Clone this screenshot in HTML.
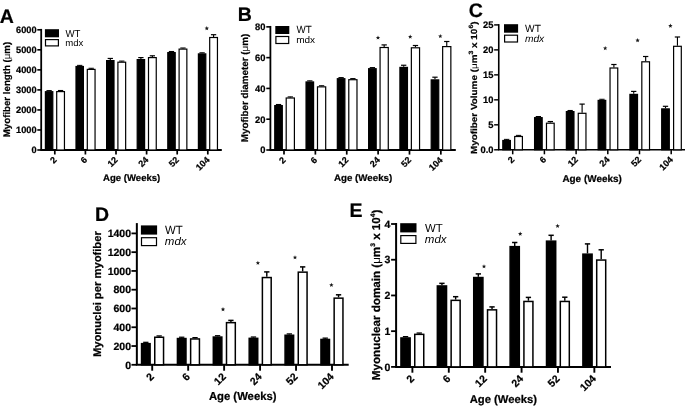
<!DOCTYPE html>
<html><head><meta charset="utf-8"><style>
html,body{margin:0;padding:0;background:#fff;}
svg{display:block;font-family:"Liberation Sans", sans-serif;will-change:transform;text-rendering:geometricPrecision;}
text[font-weight=bold]{stroke:#000;stroke-width:0.22px;}
</style></head><body>
<svg width="685" height="408" viewBox="0 0 685 408">
<rect width="685" height="408" fill="#fff"/>
<text x="-0.2" y="22.8" font-size="19.5" font-weight="bold" stroke="#000" stroke-width="0.3">A</text>
<line x1="41.2" y1="28.9" x2="41.2" y2="150" stroke="#000" stroke-width="1.8"/>
<line x1="37.3" y1="150" x2="41.2" y2="150" stroke="#000" stroke-width="1.62"/>
<text x="36.57" y="153.29" font-size="9.2" font-weight="bold" text-anchor="end">0</text>
<line x1="37.3" y1="129.97" x2="41.2" y2="129.97" stroke="#000" stroke-width="1.62"/>
<text x="36.57" y="133.26" font-size="9.2" font-weight="bold" text-anchor="end">1000</text>
<line x1="37.3" y1="109.93" x2="41.2" y2="109.93" stroke="#000" stroke-width="1.62"/>
<text x="36.57" y="113.23" font-size="9.2" font-weight="bold" text-anchor="end">2000</text>
<line x1="37.3" y1="89.9" x2="41.2" y2="89.9" stroke="#000" stroke-width="1.62"/>
<text x="36.57" y="93.19" font-size="9.2" font-weight="bold" text-anchor="end">3000</text>
<line x1="37.3" y1="69.87" x2="41.2" y2="69.87" stroke="#000" stroke-width="1.62"/>
<text x="36.57" y="73.16" font-size="9.2" font-weight="bold" text-anchor="end">4000</text>
<line x1="37.3" y1="49.83" x2="41.2" y2="49.83" stroke="#000" stroke-width="1.62"/>
<text x="36.57" y="53.13" font-size="9.2" font-weight="bold" text-anchor="end">5000</text>
<line x1="37.3" y1="29.8" x2="41.2" y2="29.8" stroke="#000" stroke-width="1.62"/>
<text x="36.57" y="33.09" font-size="9.2" font-weight="bold" text-anchor="end">6000</text>
<line x1="40.3" y1="150" x2="221.8" y2="150" stroke="#000" stroke-width="1.8"/>
<line x1="54.8" y1="150" x2="54.8" y2="154.5" stroke="#000" stroke-width="1.71"/>
<text transform="translate(57.2,160.48) rotate(-45)" font-size="9" font-weight="bold" text-anchor="end">2</text>
<line x1="49.1" y1="90.57" x2="49.1" y2="91.1" stroke="#000" stroke-width="1.14"/>
<line x1="46.45" y1="90.57" x2="51.75" y2="90.57" stroke="#000" stroke-width="1.02"/>
<rect x="45.4" y="91.7" width="7.4" height="58.3" fill="#000" stroke="#000" stroke-width="1.2"/>
<line x1="60.57" y1="90.47" x2="60.57" y2="91" stroke="#000" stroke-width="1.14"/>
<line x1="57.92" y1="90.47" x2="63.22" y2="90.47" stroke="#000" stroke-width="1.02"/>
<rect x="56.7" y="91.6" width="7.75" height="58.4" fill="#fff" stroke="#000" stroke-width="1.2"/>
<line x1="85.4" y1="150" x2="85.4" y2="154.5" stroke="#000" stroke-width="1.71"/>
<text transform="translate(87.8,160.48) rotate(-45)" font-size="9" font-weight="bold" text-anchor="end">6</text>
<line x1="79.7" y1="65.37" x2="79.7" y2="65.9" stroke="#000" stroke-width="1.14"/>
<line x1="77.05" y1="65.37" x2="82.35" y2="65.37" stroke="#000" stroke-width="1.02"/>
<rect x="76" y="66.5" width="7.4" height="83.5" fill="#000" stroke="#000" stroke-width="1.2"/>
<line x1="91.18" y1="68.27" x2="91.18" y2="68.8" stroke="#000" stroke-width="1.14"/>
<line x1="88.53" y1="68.27" x2="93.83" y2="68.27" stroke="#000" stroke-width="1.02"/>
<rect x="87.3" y="69.4" width="7.75" height="80.6" fill="#fff" stroke="#000" stroke-width="1.2"/>
<line x1="116" y1="150" x2="116" y2="154.5" stroke="#000" stroke-width="1.71"/>
<text transform="translate(118.4,160.48) rotate(-45)" font-size="9" font-weight="bold" text-anchor="end">12</text>
<line x1="110.3" y1="58.45" x2="110.3" y2="60" stroke="#000" stroke-width="1.14"/>
<line x1="107.65" y1="58.45" x2="112.95" y2="58.45" stroke="#000" stroke-width="1.2"/>
<rect x="106.6" y="60.6" width="7.4" height="89.4" fill="#000" stroke="#000" stroke-width="1.2"/>
<line x1="121.78" y1="61.07" x2="121.78" y2="61.6" stroke="#000" stroke-width="1.14"/>
<line x1="119.12" y1="61.07" x2="124.43" y2="61.07" stroke="#000" stroke-width="1.02"/>
<rect x="117.9" y="62.2" width="7.75" height="87.8" fill="#fff" stroke="#000" stroke-width="1.2"/>
<line x1="146.6" y1="150" x2="146.6" y2="154.5" stroke="#000" stroke-width="1.71"/>
<text transform="translate(149,160.48) rotate(-45)" font-size="9" font-weight="bold" text-anchor="end">24</text>
<line x1="140.9" y1="57.6" x2="140.9" y2="59" stroke="#000" stroke-width="1.14"/>
<line x1="138.25" y1="57.6" x2="143.55" y2="57.6" stroke="#000" stroke-width="1.2"/>
<rect x="137.2" y="59.6" width="7.4" height="90.4" fill="#000" stroke="#000" stroke-width="1.2"/>
<line x1="152.38" y1="55.8" x2="152.38" y2="57" stroke="#000" stroke-width="1.14"/>
<line x1="149.73" y1="55.8" x2="155.03" y2="55.8" stroke="#000" stroke-width="1.2"/>
<rect x="148.5" y="57.6" width="7.75" height="92.4" fill="#fff" stroke="#000" stroke-width="1.2"/>
<line x1="177.2" y1="150" x2="177.2" y2="154.5" stroke="#000" stroke-width="1.71"/>
<text transform="translate(179.6,160.48) rotate(-45)" font-size="9" font-weight="bold" text-anchor="end">52</text>
<line x1="171.5" y1="51.47" x2="171.5" y2="52" stroke="#000" stroke-width="1.14"/>
<line x1="168.85" y1="51.47" x2="174.15" y2="51.47" stroke="#000" stroke-width="1.02"/>
<rect x="167.8" y="52.6" width="7.4" height="97.4" fill="#000" stroke="#000" stroke-width="1.2"/>
<line x1="182.97" y1="47.97" x2="182.97" y2="48.5" stroke="#000" stroke-width="1.14"/>
<line x1="180.32" y1="47.97" x2="185.62" y2="47.97" stroke="#000" stroke-width="1.02"/>
<rect x="179.1" y="49.1" width="7.75" height="100.9" fill="#fff" stroke="#000" stroke-width="1.2"/>
<line x1="207.8" y1="150" x2="207.8" y2="154.5" stroke="#000" stroke-width="1.71"/>
<text transform="translate(210.2,160.48) rotate(-45)" font-size="9" font-weight="bold" text-anchor="end">104</text>
<line x1="202.1" y1="52.77" x2="202.1" y2="53.3" stroke="#000" stroke-width="1.14"/>
<line x1="199.45" y1="52.77" x2="204.75" y2="52.77" stroke="#000" stroke-width="1.02"/>
<rect x="198.4" y="53.9" width="7.4" height="96.1" fill="#000" stroke="#000" stroke-width="1.2"/>
<line x1="213.58" y1="34.7" x2="213.58" y2="36.9" stroke="#000" stroke-width="1.14"/>
<line x1="210.93" y1="34.7" x2="216.23" y2="34.7" stroke="#000" stroke-width="1.2"/>
<rect x="209.7" y="37.5" width="7.75" height="112.5" fill="#fff" stroke="#000" stroke-width="1.2"/>
<polygon points="206.8,26.1 207.39,27.59 208.99,27.69 207.75,28.71 208.15,30.26 206.8,29.4 205.45,30.26 205.85,28.71 204.61,27.69 206.21,27.59" fill="#1a1a1a"/>
<rect x="44.9" y="29.2" width="14.1" height="8.1" fill="#000"/>
<rect x="45.5" y="39.6" width="12.9" height="6.3" fill="#fff" stroke="#000" stroke-width="1.2"/>
<text x="65.4" y="36.7" font-size="10.3" textLength="15.01" lengthAdjust="spacingAndGlyphs">WT</text>
<text x="65.19" y="45.8" font-size="9.4" textLength="18.11" lengthAdjust="spacingAndGlyphs">mdx</text>
<text transform="translate(9.9,89.5) rotate(-90)" font-size="9.6" font-weight="bold" text-anchor="middle" textLength="95.46" lengthAdjust="spacingAndGlyphs">Myofiber length (<tspan font-weight="normal" style="stroke-width:0">μ</tspan>m)</text>
<text x="103" y="180.7" font-size="9.5" font-weight="bold" textLength="57.3" lengthAdjust="spacingAndGlyphs">Age (Weeks)</text>
<text x="237.8" y="20.8" font-size="19.5" font-weight="bold" stroke="#000" stroke-width="0.3">B</text>
<line x1="270.4" y1="25.95" x2="270.4" y2="150" stroke="#000" stroke-width="1.8"/>
<line x1="266.3" y1="150" x2="270.4" y2="150" stroke="#000" stroke-width="1.62"/>
<text x="265.48" y="153.37" font-size="9.4" font-weight="bold" text-anchor="end">0</text>
<line x1="266.3" y1="119.21" x2="270.4" y2="119.21" stroke="#000" stroke-width="1.62"/>
<text x="265.48" y="122.58" font-size="9.4" font-weight="bold" text-anchor="end">20</text>
<line x1="266.3" y1="88.42" x2="270.4" y2="88.42" stroke="#000" stroke-width="1.62"/>
<text x="265.48" y="91.79" font-size="9.4" font-weight="bold" text-anchor="end">40</text>
<line x1="266.3" y1="57.64" x2="270.4" y2="57.64" stroke="#000" stroke-width="1.62"/>
<text x="265.48" y="61" font-size="9.4" font-weight="bold" text-anchor="end">60</text>
<line x1="266.3" y1="26.85" x2="270.4" y2="26.85" stroke="#000" stroke-width="1.62"/>
<text x="265.48" y="30.22" font-size="9.4" font-weight="bold" text-anchor="end">80</text>
<line x1="269.5" y1="150" x2="455.8" y2="150" stroke="#000" stroke-width="1.8"/>
<line x1="284" y1="150" x2="284" y2="154.6" stroke="#000" stroke-width="1.71"/>
<text transform="translate(286.4,160.58) rotate(-45)" font-size="9" font-weight="bold" text-anchor="end">2</text>
<line x1="278.52" y1="104.47" x2="278.52" y2="105" stroke="#000" stroke-width="1.14"/>
<line x1="275.88" y1="104.47" x2="281.17" y2="104.47" stroke="#000" stroke-width="1.02"/>
<rect x="274.75" y="105.6" width="7.55" height="44.4" fill="#000" stroke="#000" stroke-width="1.2"/>
<line x1="290.3" y1="96.87" x2="290.3" y2="97.4" stroke="#000" stroke-width="1.14"/>
<line x1="287.65" y1="96.87" x2="292.95" y2="96.87" stroke="#000" stroke-width="1.02"/>
<rect x="286.2" y="98" width="8.2" height="52" fill="#fff" stroke="#000" stroke-width="1.2"/>
<line x1="315.37" y1="150" x2="315.37" y2="154.6" stroke="#000" stroke-width="1.71"/>
<text transform="translate(317.77,160.58) rotate(-45)" font-size="9" font-weight="bold" text-anchor="end">6</text>
<line x1="309.81" y1="80.82" x2="309.81" y2="81.35" stroke="#000" stroke-width="1.14"/>
<line x1="307.17" y1="80.82" x2="312.46" y2="80.82" stroke="#000" stroke-width="1.02"/>
<rect x="306.04" y="81.95" width="7.55" height="68.05" fill="#000" stroke="#000" stroke-width="1.2"/>
<line x1="321.59" y1="85.72" x2="321.59" y2="86.25" stroke="#000" stroke-width="1.14"/>
<line x1="318.94" y1="85.72" x2="324.24" y2="85.72" stroke="#000" stroke-width="1.02"/>
<rect x="317.49" y="86.85" width="8.2" height="63.15" fill="#fff" stroke="#000" stroke-width="1.2"/>
<line x1="346.74" y1="150" x2="346.74" y2="154.6" stroke="#000" stroke-width="1.71"/>
<text transform="translate(349.14,160.58) rotate(-45)" font-size="9" font-weight="bold" text-anchor="end">12</text>
<line x1="341.1" y1="77.57" x2="341.1" y2="78.1" stroke="#000" stroke-width="1.14"/>
<line x1="338.45" y1="77.57" x2="343.75" y2="77.57" stroke="#000" stroke-width="1.02"/>
<rect x="337.33" y="78.7" width="7.55" height="71.3" fill="#000" stroke="#000" stroke-width="1.2"/>
<line x1="352.88" y1="78.57" x2="352.88" y2="79.1" stroke="#000" stroke-width="1.14"/>
<line x1="350.23" y1="78.57" x2="355.53" y2="78.57" stroke="#000" stroke-width="1.02"/>
<rect x="348.78" y="79.7" width="8.2" height="70.3" fill="#fff" stroke="#000" stroke-width="1.2"/>
<line x1="378.11" y1="150" x2="378.11" y2="154.6" stroke="#000" stroke-width="1.71"/>
<text transform="translate(380.51,160.58) rotate(-45)" font-size="9" font-weight="bold" text-anchor="end">24</text>
<line x1="372.39" y1="67.57" x2="372.39" y2="68.1" stroke="#000" stroke-width="1.14"/>
<line x1="369.75" y1="67.57" x2="375.04" y2="67.57" stroke="#000" stroke-width="1.02"/>
<rect x="368.62" y="68.7" width="7.55" height="81.3" fill="#000" stroke="#000" stroke-width="1.2"/>
<line x1="384.17" y1="44.9" x2="384.17" y2="46.9" stroke="#000" stroke-width="1.14"/>
<line x1="381.52" y1="44.9" x2="386.82" y2="44.9" stroke="#000" stroke-width="1.2"/>
<rect x="380.07" y="47.5" width="8.2" height="102.5" fill="#fff" stroke="#000" stroke-width="1.2"/>
<line x1="409.48" y1="150" x2="409.48" y2="154.6" stroke="#000" stroke-width="1.71"/>
<text transform="translate(411.88,160.58) rotate(-45)" font-size="9" font-weight="bold" text-anchor="end">52</text>
<line x1="403.68" y1="65.25" x2="403.68" y2="66.8" stroke="#000" stroke-width="1.14"/>
<line x1="401.03" y1="65.25" x2="406.33" y2="65.25" stroke="#000" stroke-width="1.2"/>
<rect x="399.91" y="67.4" width="7.55" height="82.6" fill="#000" stroke="#000" stroke-width="1.2"/>
<line x1="415.46" y1="45.5" x2="415.46" y2="47.2" stroke="#000" stroke-width="1.14"/>
<line x1="412.81" y1="45.5" x2="418.11" y2="45.5" stroke="#000" stroke-width="1.2"/>
<rect x="411.36" y="47.8" width="8.2" height="102.2" fill="#fff" stroke="#000" stroke-width="1.2"/>
<line x1="440.85" y1="150" x2="440.85" y2="154.6" stroke="#000" stroke-width="1.71"/>
<text transform="translate(443.25,160.58) rotate(-45)" font-size="9" font-weight="bold" text-anchor="end">104</text>
<line x1="434.97" y1="77.2" x2="434.97" y2="79.3" stroke="#000" stroke-width="1.14"/>
<line x1="432.32" y1="77.2" x2="437.62" y2="77.2" stroke="#000" stroke-width="1.2"/>
<rect x="431.2" y="79.9" width="7.55" height="70.1" fill="#000" stroke="#000" stroke-width="1.2"/>
<line x1="446.75" y1="41.5" x2="446.75" y2="46" stroke="#000" stroke-width="1.14"/>
<line x1="444.1" y1="41.5" x2="449.4" y2="41.5" stroke="#000" stroke-width="1.2"/>
<rect x="442.65" y="46.6" width="8.2" height="103.4" fill="#fff" stroke="#000" stroke-width="1.2"/>
<polygon points="378,35.4 378.59,36.89 380.19,36.99 378.95,38.01 379.35,39.56 378,38.7 376.65,39.56 377.05,38.01 375.81,36.99 377.41,36.89" fill="#1a1a1a"/>
<polygon points="410.2,34.5 410.79,35.99 412.39,36.09 411.15,37.11 411.55,38.66 410.2,37.8 408.85,38.66 409.25,37.11 408.01,36.09 409.61,35.99" fill="#1a1a1a"/>
<polygon points="440.3,33.9 440.89,35.39 442.49,35.49 441.25,36.51 441.65,38.06 440.3,37.2 438.95,38.06 439.35,36.51 438.11,35.49 439.71,35.39" fill="#1a1a1a"/>
<rect x="275.3" y="26" width="14" height="8" fill="#000"/>
<rect x="275.9" y="36.5" width="12.8" height="7" fill="#fff" stroke="#000" stroke-width="1.2"/>
<text x="296.5" y="33.3" font-size="10.4" textLength="15.31" lengthAdjust="spacingAndGlyphs">WT</text>
<text x="296.18" y="43" font-size="9.5" textLength="18.91" lengthAdjust="spacingAndGlyphs">mdx</text>
<text transform="translate(248.3,87.9) rotate(-90)" font-size="9.7" font-weight="bold" text-anchor="middle" textLength="108.47" lengthAdjust="spacingAndGlyphs">Myofiber diameter (<tspan font-weight="normal" style="stroke-width:0">μ</tspan>m)</text>
<text x="333.9" y="180.6" font-size="9.5" font-weight="bold" textLength="58.4" lengthAdjust="spacingAndGlyphs">Age (Weeks)</text>
<text x="468.7" y="16.9" font-size="19.5" font-weight="bold" stroke="#000" stroke-width="0.3">C</text>
<line x1="498.75" y1="24.1" x2="498.75" y2="149.8" stroke="#000" stroke-width="1.6"/>
<line x1="494.15" y1="149.8" x2="498.75" y2="149.8" stroke="#000" stroke-width="1.44"/>
<text x="493.48" y="153.17" font-size="9.4" font-weight="bold" text-anchor="end">0.0</text>
<line x1="494.15" y1="124.82" x2="498.75" y2="124.82" stroke="#000" stroke-width="1.44"/>
<text x="493.48" y="128.19" font-size="9.4" font-weight="bold" text-anchor="end">5</text>
<line x1="494.15" y1="99.84" x2="498.75" y2="99.84" stroke="#000" stroke-width="1.44"/>
<text x="493.48" y="103.21" font-size="9.4" font-weight="bold" text-anchor="end">10</text>
<line x1="494.15" y1="74.86" x2="498.75" y2="74.86" stroke="#000" stroke-width="1.44"/>
<text x="493.48" y="78.23" font-size="9.4" font-weight="bold" text-anchor="end">15</text>
<line x1="494.15" y1="49.88" x2="498.75" y2="49.88" stroke="#000" stroke-width="1.44"/>
<text x="493.48" y="53.25" font-size="9.4" font-weight="bold" text-anchor="end">20</text>
<line x1="494.15" y1="24.9" x2="498.75" y2="24.9" stroke="#000" stroke-width="1.44"/>
<text x="493.48" y="28.27" font-size="9.4" font-weight="bold" text-anchor="end">25</text>
<line x1="497.95" y1="149.8" x2="685" y2="149.8" stroke="#000" stroke-width="1.6"/>
<line x1="512.7" y1="149.8" x2="512.7" y2="154.3" stroke="#000" stroke-width="1.52"/>
<text transform="translate(515.1,160.28) rotate(-45)" font-size="9" font-weight="bold" text-anchor="end">2</text>
<line x1="506.6" y1="139.37" x2="506.6" y2="139.9" stroke="#000" stroke-width="1.14"/>
<line x1="503.95" y1="139.37" x2="509.25" y2="139.37" stroke="#000" stroke-width="1.02"/>
<rect x="502.8" y="140.5" width="7.6" height="9.3" fill="#000" stroke="#000" stroke-width="1.2"/>
<line x1="518.55" y1="135.37" x2="518.55" y2="135.9" stroke="#000" stroke-width="1.14"/>
<line x1="515.9" y1="135.37" x2="521.2" y2="135.37" stroke="#000" stroke-width="1.02"/>
<rect x="514.7" y="136.5" width="7.7" height="13.3" fill="#fff" stroke="#000" stroke-width="1.2"/>
<line x1="544.4" y1="149.8" x2="544.4" y2="154.3" stroke="#000" stroke-width="1.52"/>
<text transform="translate(546.8,160.28) rotate(-45)" font-size="9" font-weight="bold" text-anchor="end">6</text>
<line x1="538.38" y1="116.52" x2="538.38" y2="117.05" stroke="#000" stroke-width="1.14"/>
<line x1="535.73" y1="116.52" x2="541.03" y2="116.52" stroke="#000" stroke-width="1.02"/>
<rect x="534.58" y="117.65" width="7.6" height="32.15" fill="#000" stroke="#000" stroke-width="1.2"/>
<line x1="550.33" y1="121.55" x2="550.33" y2="122.6" stroke="#000" stroke-width="1.14"/>
<line x1="547.68" y1="121.55" x2="552.98" y2="121.55" stroke="#000" stroke-width="1.2"/>
<rect x="546.48" y="123.2" width="7.7" height="26.6" fill="#fff" stroke="#000" stroke-width="1.2"/>
<line x1="576.1" y1="149.8" x2="576.1" y2="154.3" stroke="#000" stroke-width="1.52"/>
<text transform="translate(578.5,160.28) rotate(-45)" font-size="9" font-weight="bold" text-anchor="end">12</text>
<line x1="570.16" y1="110.47" x2="570.16" y2="111" stroke="#000" stroke-width="1.14"/>
<line x1="567.51" y1="110.47" x2="572.81" y2="110.47" stroke="#000" stroke-width="1.02"/>
<rect x="566.36" y="111.6" width="7.6" height="38.2" fill="#000" stroke="#000" stroke-width="1.2"/>
<line x1="582.11" y1="104.1" x2="582.11" y2="112.7" stroke="#000" stroke-width="1.14"/>
<line x1="579.46" y1="104.1" x2="584.76" y2="104.1" stroke="#000" stroke-width="1.2"/>
<rect x="578.26" y="113.3" width="7.7" height="36.5" fill="#fff" stroke="#000" stroke-width="1.2"/>
<line x1="607.8" y1="149.8" x2="607.8" y2="154.3" stroke="#000" stroke-width="1.52"/>
<text transform="translate(610.2,160.28) rotate(-45)" font-size="9" font-weight="bold" text-anchor="end">24</text>
<line x1="601.94" y1="99.27" x2="601.94" y2="99.8" stroke="#000" stroke-width="1.14"/>
<line x1="599.29" y1="99.27" x2="604.59" y2="99.27" stroke="#000" stroke-width="1.02"/>
<rect x="598.14" y="100.4" width="7.6" height="49.4" fill="#000" stroke="#000" stroke-width="1.2"/>
<line x1="613.89" y1="64.5" x2="613.89" y2="67.4" stroke="#000" stroke-width="1.14"/>
<line x1="611.24" y1="64.5" x2="616.54" y2="64.5" stroke="#000" stroke-width="1.2"/>
<rect x="610.04" y="68" width="7.7" height="81.8" fill="#fff" stroke="#000" stroke-width="1.2"/>
<line x1="639.5" y1="149.8" x2="639.5" y2="154.3" stroke="#000" stroke-width="1.52"/>
<text transform="translate(641.9,160.28) rotate(-45)" font-size="9" font-weight="bold" text-anchor="end">52</text>
<line x1="633.72" y1="91.4" x2="633.72" y2="93.8" stroke="#000" stroke-width="1.14"/>
<line x1="631.07" y1="91.4" x2="636.37" y2="91.4" stroke="#000" stroke-width="1.2"/>
<rect x="629.92" y="94.4" width="7.6" height="55.4" fill="#000" stroke="#000" stroke-width="1.2"/>
<line x1="645.67" y1="56.5" x2="645.67" y2="61.2" stroke="#000" stroke-width="1.14"/>
<line x1="643.02" y1="56.5" x2="648.32" y2="56.5" stroke="#000" stroke-width="1.2"/>
<rect x="641.82" y="61.8" width="7.7" height="88" fill="#fff" stroke="#000" stroke-width="1.2"/>
<line x1="671.2" y1="149.8" x2="671.2" y2="154.3" stroke="#000" stroke-width="1.52"/>
<text transform="translate(673.6,160.28) rotate(-45)" font-size="9" font-weight="bold" text-anchor="end">104</text>
<line x1="665.5" y1="106.3" x2="665.5" y2="108.3" stroke="#000" stroke-width="1.14"/>
<line x1="662.85" y1="106.3" x2="668.15" y2="106.3" stroke="#000" stroke-width="1.2"/>
<rect x="661.7" y="108.9" width="7.6" height="40.9" fill="#000" stroke="#000" stroke-width="1.2"/>
<line x1="677.45" y1="37" x2="677.45" y2="45.7" stroke="#000" stroke-width="1.14"/>
<line x1="674.8" y1="37" x2="680.1" y2="37" stroke="#000" stroke-width="1.2"/>
<rect x="673.6" y="46.3" width="7.7" height="103.5" fill="#fff" stroke="#000" stroke-width="1.2"/>
<polygon points="605.2,46 605.79,47.49 607.39,47.59 606.15,48.61 606.55,50.16 605.2,49.3 603.85,50.16 604.25,48.61 603.01,47.59 604.61,47.49" fill="#1a1a1a"/>
<polygon points="637.6,38.1 638.19,39.59 639.79,39.69 638.55,40.71 638.95,42.26 637.6,41.4 636.25,42.26 636.65,40.71 635.41,39.69 637.01,39.59" fill="#1a1a1a"/>
<polygon points="670.4,23.6 670.99,25.09 672.59,25.19 671.35,26.21 671.75,27.76 670.4,26.9 669.05,27.76 669.45,26.21 668.21,25.19 669.81,25.09" fill="#1a1a1a"/>
<rect x="504" y="24.2" width="14.1" height="8.5" fill="#000"/>
<rect x="504.6" y="35.2" width="12.9" height="6.8" fill="#fff" stroke="#000" stroke-width="1.2"/>
<text x="525" y="31.8" font-size="10.4" textLength="15.91" lengthAdjust="spacingAndGlyphs">WT</text>
<text x="524.9" y="42" font-size="10" font-style="italic" textLength="19.3" lengthAdjust="spacingAndGlyphs">mdx</text>
<text transform="translate(477.1,87.75) rotate(-90)" font-size="8.8" font-weight="bold" text-anchor="middle" textLength="132.69" lengthAdjust="spacingAndGlyphs">Myofiber Volume (<tspan font-weight="normal" style="stroke-width:0">μ</tspan>m<tspan dy="-4.6" font-size="6.2">3</tspan><tspan dy="4.6"> x 10</tspan><tspan dy="-4.6" font-size="6.2">6</tspan><tspan dy="4.6">)</tspan></text>
<text x="562.4" y="182.3" font-size="9.9" font-weight="bold" textLength="59.4" lengthAdjust="spacingAndGlyphs">Age (Weeks)</text>
<text x="95.1" y="220.8" font-size="19.5" font-weight="bold" stroke="#000" stroke-width="0.3">D</text>
<line x1="136.85" y1="223.1" x2="136.85" y2="364.8" stroke="#000" stroke-width="2"/>
<line x1="131.45" y1="364.8" x2="136.85" y2="364.8" stroke="#000" stroke-width="1.8"/>
<text x="131.02" y="368.56" font-size="10.5" font-weight="bold" text-anchor="end">0</text>
<line x1="131.45" y1="346.03" x2="136.85" y2="346.03" stroke="#000" stroke-width="1.8"/>
<text x="131.02" y="349.79" font-size="10.5" font-weight="bold" text-anchor="end">200</text>
<line x1="131.45" y1="327.26" x2="136.85" y2="327.26" stroke="#000" stroke-width="1.8"/>
<text x="131.02" y="331.02" font-size="10.5" font-weight="bold" text-anchor="end">400</text>
<line x1="131.45" y1="308.49" x2="136.85" y2="308.49" stroke="#000" stroke-width="1.8"/>
<text x="131.02" y="312.24" font-size="10.5" font-weight="bold" text-anchor="end">600</text>
<line x1="131.45" y1="289.71" x2="136.85" y2="289.71" stroke="#000" stroke-width="1.8"/>
<text x="131.02" y="293.47" font-size="10.5" font-weight="bold" text-anchor="end">800</text>
<line x1="131.45" y1="270.94" x2="136.85" y2="270.94" stroke="#000" stroke-width="1.8"/>
<text x="131.02" y="274.7" font-size="10.5" font-weight="bold" text-anchor="end">1000</text>
<line x1="131.45" y1="252.17" x2="136.85" y2="252.17" stroke="#000" stroke-width="1.8"/>
<text x="131.02" y="255.93" font-size="10.5" font-weight="bold" text-anchor="end">1200</text>
<line x1="131.45" y1="233.4" x2="136.85" y2="233.4" stroke="#000" stroke-width="1.8"/>
<text x="131.02" y="237.16" font-size="10.5" font-weight="bold" text-anchor="end">1400</text>
<line x1="135.85" y1="364.8" x2="348.7" y2="364.8" stroke="#000" stroke-width="2"/>
<line x1="152.2" y1="364.8" x2="152.2" y2="370.7" stroke="#000" stroke-width="1.9"/>
<text transform="translate(154.6,377.46) rotate(-45)" font-size="10.5" font-weight="bold" text-anchor="end">2</text>
<line x1="145.82" y1="342.32" x2="145.82" y2="342.9" stroke="#000" stroke-width="1.42"/>
<line x1="143.17" y1="342.32" x2="148.47" y2="342.32" stroke="#000" stroke-width="1.27"/>
<rect x="141.55" y="343.65" width="8.55" height="21.15" fill="#000" stroke="#000" stroke-width="1.5"/>
<line x1="159.15" y1="335.92" x2="159.15" y2="336.5" stroke="#000" stroke-width="1.42"/>
<line x1="156.5" y1="335.92" x2="161.8" y2="335.92" stroke="#000" stroke-width="1.27"/>
<rect x="154.75" y="337.25" width="8.8" height="27.55" fill="#fff" stroke="#000" stroke-width="1.5"/>
<line x1="188.16" y1="364.8" x2="188.16" y2="370.7" stroke="#000" stroke-width="1.9"/>
<text transform="translate(190.56,377.46) rotate(-45)" font-size="10.5" font-weight="bold" text-anchor="end">6</text>
<line x1="181.7" y1="337.22" x2="181.7" y2="337.8" stroke="#000" stroke-width="1.42"/>
<line x1="179.05" y1="337.22" x2="184.35" y2="337.22" stroke="#000" stroke-width="1.27"/>
<rect x="177.43" y="338.55" width="8.55" height="26.25" fill="#000" stroke="#000" stroke-width="1.5"/>
<line x1="195.03" y1="337.62" x2="195.03" y2="338.2" stroke="#000" stroke-width="1.42"/>
<line x1="192.38" y1="337.62" x2="197.68" y2="337.62" stroke="#000" stroke-width="1.27"/>
<rect x="190.63" y="338.95" width="8.8" height="25.85" fill="#fff" stroke="#000" stroke-width="1.5"/>
<line x1="224.12" y1="364.8" x2="224.12" y2="370.7" stroke="#000" stroke-width="1.9"/>
<text transform="translate(226.52,377.46) rotate(-45)" font-size="10.5" font-weight="bold" text-anchor="end">12</text>
<line x1="217.58" y1="335.72" x2="217.58" y2="336.3" stroke="#000" stroke-width="1.42"/>
<line x1="214.93" y1="335.72" x2="220.23" y2="335.72" stroke="#000" stroke-width="1.27"/>
<rect x="213.31" y="337.05" width="8.55" height="27.75" fill="#000" stroke="#000" stroke-width="1.5"/>
<line x1="230.91" y1="320.4" x2="230.91" y2="321.9" stroke="#000" stroke-width="1.42"/>
<line x1="228.26" y1="320.4" x2="233.56" y2="320.4" stroke="#000" stroke-width="1.5"/>
<rect x="226.51" y="322.65" width="8.8" height="42.15" fill="#fff" stroke="#000" stroke-width="1.5"/>
<line x1="260.08" y1="364.8" x2="260.08" y2="370.7" stroke="#000" stroke-width="1.9"/>
<text transform="translate(262.48,377.46) rotate(-45)" font-size="10.5" font-weight="bold" text-anchor="end">24</text>
<line x1="253.47" y1="337.02" x2="253.47" y2="337.6" stroke="#000" stroke-width="1.42"/>
<line x1="250.82" y1="337.02" x2="256.12" y2="337.02" stroke="#000" stroke-width="1.27"/>
<rect x="249.19" y="338.35" width="8.55" height="26.45" fill="#000" stroke="#000" stroke-width="1.5"/>
<line x1="266.79" y1="271.9" x2="266.79" y2="276.8" stroke="#000" stroke-width="1.42"/>
<line x1="264.14" y1="271.9" x2="269.44" y2="271.9" stroke="#000" stroke-width="1.5"/>
<rect x="262.39" y="277.55" width="8.8" height="87.25" fill="#fff" stroke="#000" stroke-width="1.5"/>
<line x1="296.04" y1="364.8" x2="296.04" y2="370.7" stroke="#000" stroke-width="1.9"/>
<text transform="translate(298.44,377.46) rotate(-45)" font-size="10.5" font-weight="bold" text-anchor="end">52</text>
<line x1="289.35" y1="333.92" x2="289.35" y2="334.5" stroke="#000" stroke-width="1.42"/>
<line x1="286.7" y1="333.92" x2="292" y2="333.92" stroke="#000" stroke-width="1.27"/>
<rect x="285.07" y="335.25" width="8.55" height="29.55" fill="#000" stroke="#000" stroke-width="1.5"/>
<line x1="302.67" y1="266.9" x2="302.67" y2="271.4" stroke="#000" stroke-width="1.42"/>
<line x1="300.02" y1="266.9" x2="305.32" y2="266.9" stroke="#000" stroke-width="1.5"/>
<rect x="298.27" y="272.15" width="8.8" height="92.65" fill="#fff" stroke="#000" stroke-width="1.5"/>
<line x1="332" y1="364.8" x2="332" y2="370.7" stroke="#000" stroke-width="1.9"/>
<text transform="translate(334.4,377.46) rotate(-45)" font-size="10.5" font-weight="bold" text-anchor="end">104</text>
<line x1="325.23" y1="338.12" x2="325.23" y2="338.7" stroke="#000" stroke-width="1.42"/>
<line x1="322.58" y1="338.12" x2="327.88" y2="338.12" stroke="#000" stroke-width="1.27"/>
<rect x="320.95" y="339.45" width="8.55" height="25.35" fill="#000" stroke="#000" stroke-width="1.5"/>
<line x1="338.55" y1="294.8" x2="338.55" y2="297.4" stroke="#000" stroke-width="1.42"/>
<line x1="335.9" y1="294.8" x2="341.2" y2="294.8" stroke="#000" stroke-width="1.5"/>
<rect x="334.15" y="298.15" width="8.8" height="66.65" fill="#fff" stroke="#000" stroke-width="1.5"/>
<polygon points="223,307.1 223.59,308.59 225.19,308.69 223.95,309.71 224.35,311.26 223,310.4 221.65,311.26 222.05,309.71 220.81,308.69 222.41,308.59" fill="#1a1a1a"/>
<polygon points="257.9,260.7 258.49,262.19 260.09,262.29 258.85,263.31 259.25,264.86 257.9,264 256.55,264.86 256.95,263.31 255.71,262.29 257.31,262.19" fill="#1a1a1a"/>
<polygon points="295,255.2 295.59,256.69 297.19,256.79 295.95,257.81 296.35,259.36 295,258.5 293.65,259.36 294.05,257.81 292.81,256.79 294.41,256.69" fill="#1a1a1a"/>
<polygon points="331.4,282.8 331.99,284.29 333.59,284.39 332.35,285.41 332.75,286.96 331.4,286.1 330.05,286.96 330.45,285.41 329.21,284.39 330.81,284.29" fill="#1a1a1a"/>
<rect x="140.9" y="225.4" width="16.2" height="9.2" fill="#000"/>
<rect x="141.5" y="237.7" width="15" height="7.9" fill="#fff" stroke="#000" stroke-width="1.2"/>
<text x="164.88" y="233.9" font-size="12" textLength="17.76" lengthAdjust="spacingAndGlyphs">WT</text>
<text x="164.88" y="244.6" font-size="11.2" font-style="italic" textLength="21.74" lengthAdjust="spacingAndGlyphs">mdx</text>
<text transform="translate(100.9,294.15) rotate(-90)" font-size="11.1" font-weight="bold" text-anchor="middle" textLength="125.9" lengthAdjust="spacingAndGlyphs">Myonuclei per myofiber</text>
<text x="208.9" y="400.4" font-size="11.5" font-weight="bold" textLength="67.6" lengthAdjust="spacingAndGlyphs">Age (Weeks)</text>
<text x="349.5" y="217.4" font-size="19.5" font-weight="bold" stroke="#000" stroke-width="0.3">E</text>
<line x1="396.1" y1="223" x2="396.1" y2="366.9" stroke="#000" stroke-width="2"/>
<line x1="391.1" y1="366.9" x2="396.1" y2="366.9" stroke="#000" stroke-width="1.8"/>
<text x="390.32" y="370.66" font-size="10.5" font-weight="bold" text-anchor="end">0</text>
<line x1="391.1" y1="331.17" x2="396.1" y2="331.17" stroke="#000" stroke-width="1.8"/>
<text x="390.32" y="334.93" font-size="10.5" font-weight="bold" text-anchor="end">1</text>
<line x1="391.1" y1="295.45" x2="396.1" y2="295.45" stroke="#000" stroke-width="1.8"/>
<text x="390.32" y="299.21" font-size="10.5" font-weight="bold" text-anchor="end">2</text>
<line x1="391.1" y1="259.73" x2="396.1" y2="259.73" stroke="#000" stroke-width="1.8"/>
<text x="390.32" y="263.48" font-size="10.5" font-weight="bold" text-anchor="end">3</text>
<line x1="391.1" y1="224" x2="396.1" y2="224" stroke="#000" stroke-width="1.8"/>
<text x="390.32" y="227.76" font-size="10.5" font-weight="bold" text-anchor="end">4</text>
<line x1="395.1" y1="366.9" x2="611" y2="366.9" stroke="#000" stroke-width="2"/>
<line x1="412.4" y1="366.9" x2="412.4" y2="372.7" stroke="#000" stroke-width="1.9"/>
<text transform="translate(414.8,379.46) rotate(-45)" font-size="10.5" font-weight="bold" text-anchor="end">2</text>
<line x1="405.55" y1="336.62" x2="405.55" y2="337.2" stroke="#000" stroke-width="1.42"/>
<line x1="402.9" y1="336.62" x2="408.2" y2="336.62" stroke="#000" stroke-width="1.27"/>
<rect x="400.95" y="337.95" width="9.2" height="28.95" fill="#000" stroke="#000" stroke-width="1.5"/>
<line x1="419.25" y1="333.02" x2="419.25" y2="333.6" stroke="#000" stroke-width="1.42"/>
<line x1="416.6" y1="333.02" x2="421.9" y2="333.02" stroke="#000" stroke-width="1.27"/>
<rect x="414.75" y="334.35" width="9" height="32.55" fill="#fff" stroke="#000" stroke-width="1.5"/>
<line x1="448.79" y1="366.9" x2="448.79" y2="372.7" stroke="#000" stroke-width="1.9"/>
<text transform="translate(451.19,379.46) rotate(-45)" font-size="10.5" font-weight="bold" text-anchor="end">6</text>
<line x1="441.94" y1="283.35" x2="441.94" y2="285.2" stroke="#000" stroke-width="1.42"/>
<line x1="439.29" y1="283.35" x2="444.59" y2="283.35" stroke="#000" stroke-width="1.5"/>
<rect x="437.34" y="285.95" width="9.2" height="80.95" fill="#000" stroke="#000" stroke-width="1.5"/>
<line x1="455.64" y1="296.7" x2="455.64" y2="299.6" stroke="#000" stroke-width="1.42"/>
<line x1="452.99" y1="296.7" x2="458.29" y2="296.7" stroke="#000" stroke-width="1.5"/>
<rect x="451.14" y="300.35" width="9" height="66.55" fill="#fff" stroke="#000" stroke-width="1.5"/>
<line x1="485.18" y1="366.9" x2="485.18" y2="372.7" stroke="#000" stroke-width="1.9"/>
<text transform="translate(487.58,379.46) rotate(-45)" font-size="10.5" font-weight="bold" text-anchor="end">12</text>
<line x1="478.33" y1="273.9" x2="478.33" y2="276.8" stroke="#000" stroke-width="1.42"/>
<line x1="475.68" y1="273.9" x2="480.98" y2="273.9" stroke="#000" stroke-width="1.5"/>
<rect x="473.73" y="277.55" width="9.2" height="89.35" fill="#000" stroke="#000" stroke-width="1.5"/>
<line x1="492.03" y1="306.9" x2="492.03" y2="309.1" stroke="#000" stroke-width="1.42"/>
<line x1="489.38" y1="306.9" x2="494.68" y2="306.9" stroke="#000" stroke-width="1.5"/>
<rect x="487.53" y="309.85" width="9" height="57.05" fill="#fff" stroke="#000" stroke-width="1.5"/>
<line x1="521.57" y1="366.9" x2="521.57" y2="372.7" stroke="#000" stroke-width="1.9"/>
<text transform="translate(523.97,379.46) rotate(-45)" font-size="10.5" font-weight="bold" text-anchor="end">24</text>
<line x1="514.72" y1="242.5" x2="514.72" y2="245.9" stroke="#000" stroke-width="1.42"/>
<line x1="512.07" y1="242.5" x2="517.37" y2="242.5" stroke="#000" stroke-width="1.5"/>
<rect x="510.12" y="246.65" width="9.2" height="120.25" fill="#000" stroke="#000" stroke-width="1.5"/>
<line x1="528.42" y1="297.4" x2="528.42" y2="300.7" stroke="#000" stroke-width="1.42"/>
<line x1="525.77" y1="297.4" x2="531.07" y2="297.4" stroke="#000" stroke-width="1.5"/>
<rect x="523.92" y="301.45" width="9" height="65.45" fill="#fff" stroke="#000" stroke-width="1.5"/>
<line x1="557.96" y1="366.9" x2="557.96" y2="372.7" stroke="#000" stroke-width="1.9"/>
<text transform="translate(560.36,379.46) rotate(-45)" font-size="10.5" font-weight="bold" text-anchor="end">52</text>
<line x1="551.11" y1="235.3" x2="551.11" y2="240.4" stroke="#000" stroke-width="1.42"/>
<line x1="548.46" y1="235.3" x2="553.76" y2="235.3" stroke="#000" stroke-width="1.5"/>
<rect x="546.51" y="241.15" width="9.2" height="125.75" fill="#000" stroke="#000" stroke-width="1.5"/>
<line x1="564.81" y1="297.2" x2="564.81" y2="300.7" stroke="#000" stroke-width="1.42"/>
<line x1="562.16" y1="297.2" x2="567.46" y2="297.2" stroke="#000" stroke-width="1.5"/>
<rect x="560.31" y="301.45" width="9" height="65.45" fill="#fff" stroke="#000" stroke-width="1.5"/>
<line x1="594.35" y1="366.9" x2="594.35" y2="372.7" stroke="#000" stroke-width="1.9"/>
<text transform="translate(596.75,379.46) rotate(-45)" font-size="10.5" font-weight="bold" text-anchor="end">104</text>
<line x1="587.5" y1="243.9" x2="587.5" y2="253.4" stroke="#000" stroke-width="1.42"/>
<line x1="584.85" y1="243.9" x2="590.15" y2="243.9" stroke="#000" stroke-width="1.5"/>
<rect x="582.9" y="254.15" width="9.2" height="112.75" fill="#000" stroke="#000" stroke-width="1.5"/>
<line x1="601.2" y1="249.8" x2="601.2" y2="259.3" stroke="#000" stroke-width="1.42"/>
<line x1="598.55" y1="249.8" x2="603.85" y2="249.8" stroke="#000" stroke-width="1.5"/>
<rect x="596.7" y="260.05" width="9" height="106.85" fill="#fff" stroke="#000" stroke-width="1.5"/>
<polygon points="484,264.2 484.59,265.69 486.19,265.79 484.95,266.81 485.35,268.36 484,267.5 482.65,268.36 483.05,266.81 481.81,265.79 483.41,265.69" fill="#1a1a1a"/>
<polygon points="520.2,231.6 520.79,233.09 522.39,233.19 521.15,234.21 521.55,235.76 520.2,234.9 518.85,235.76 519.25,234.21 518.01,233.19 519.61,233.09" fill="#1a1a1a"/>
<polygon points="557.6,223.8 558.19,225.29 559.79,225.39 558.55,226.41 558.95,227.96 557.6,227.1 556.25,227.96 556.65,226.41 555.41,225.39 557.01,225.29" fill="#1a1a1a"/>
<rect x="400.2" y="223.2" width="16.3" height="9.2" fill="#000"/>
<rect x="400.8" y="235.6" width="15.1" height="7.8" fill="#fff" stroke="#000" stroke-width="1.2"/>
<text x="424.88" y="231.6" font-size="11.8" textLength="17.75" lengthAdjust="spacingAndGlyphs">WT</text>
<text x="424.87" y="242.8" font-size="11.4" font-style="italic" textLength="21.74" lengthAdjust="spacingAndGlyphs">mdx</text>
<text transform="translate(380.3,294.9) rotate(-90)" font-size="11.5" font-weight="bold" text-anchor="middle" textLength="170.63" lengthAdjust="spacingAndGlyphs">Myonuclear domain (<tspan font-weight="normal" style="stroke-width:0">μ</tspan>m<tspan dy="-5.4" font-size="6.6">3</tspan><tspan dy="5.4"> x 10</tspan><tspan dy="-5.4" font-size="6.6">4</tspan><tspan dy="5.4">)</tspan></text>
<text x="469.7" y="403.2" font-size="11.2" font-weight="bold" textLength="67.4" lengthAdjust="spacingAndGlyphs">Age (Weeks)</text>
</svg>
</body></html>
